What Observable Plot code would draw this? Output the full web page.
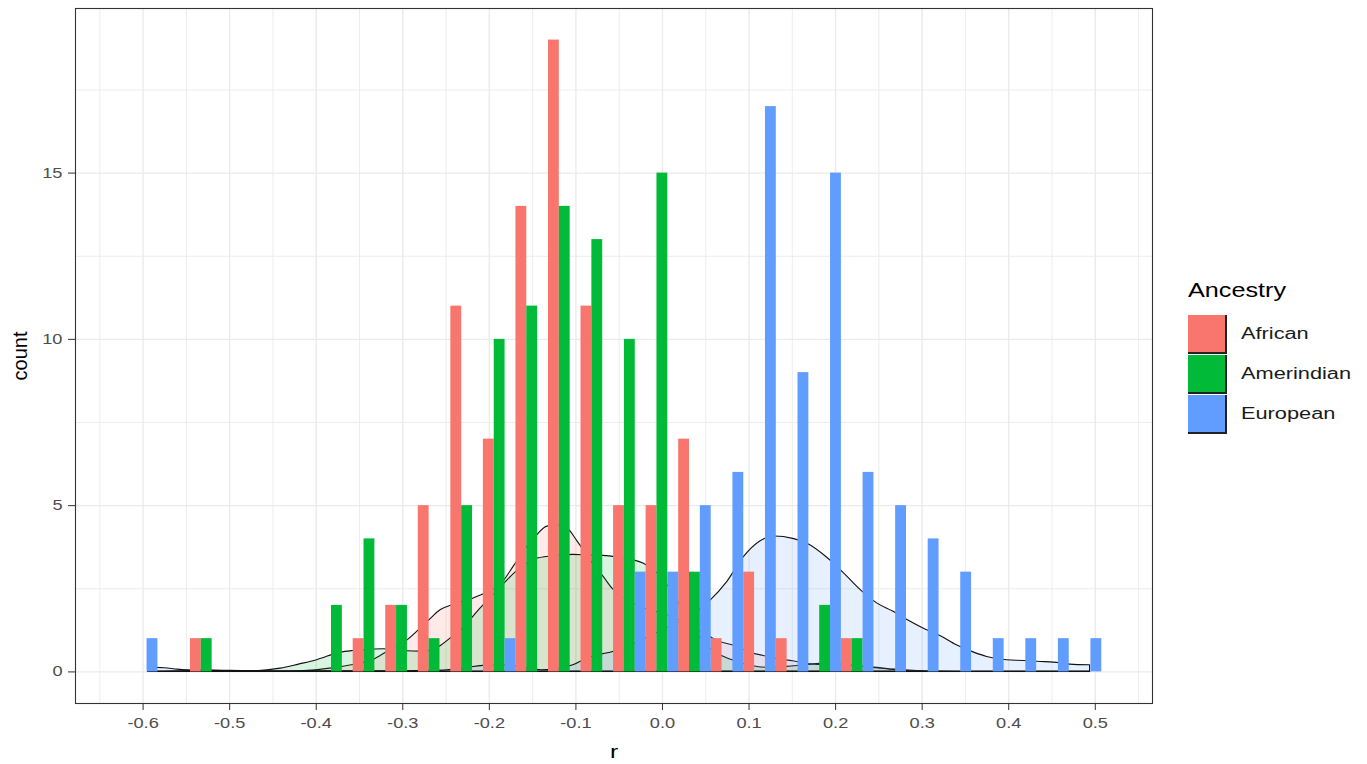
<!DOCTYPE html>
<html>
<head>
<meta charset="utf-8">
<script src="https://cdn.jsdelivr.net/npm/d3@7"></script>
<script src="https://cdn.jsdelivr.net/npm/@observablehq/plot@0.6"></script>
<style>
  html, body { margin: 0; padding: 0; background: #fff; }
  #wrap { position: relative; width: 1367px; height: 764px; font-family: "Liberation Sans", Arial, sans-serif; }
  #chart { position: absolute; left: 0; top: 0; }
  #legend { position: absolute; left: 1188px; top: 279px; }
  #legend .title { font-size: 20px; color: #000; margin-bottom: 12px; display: inline-block; transform: scaleX(1.26); transform-origin: left center; }
  #legend .row { display: flex; align-items: center; height: 40px; }
  #legend .key { width: 39px; height: 39px; box-sizing: border-box; border-right: 2px solid #222; border-bottom: 2px solid #222; }
  #legend .lab { font-size: 16px; color: #1a1a1a; margin-left: 14px; display: inline-block; transform: scaleX(1.36); transform-origin: left center; }
</style>
</head>
<body>
<div id="wrap"><div id="chart"></div><div id="legend"></div></div>
<script>
// ---- data ----
const groups = ["African", "Amerindian", "European"];
const colors = ["#F8766D", "#00BA38", "#619CFF"];
// histogram: 30 bins, dodged
const binStart = -0.6205;
const binWidth = 0.0376;
const countsAfrican    = [0,0,1,0,0,0,0,1,2,5,11,7,14,19,11,5,5,7,1,3,1,0,1,0,0,0,0,0,0,0];
const countsAmerindian = [0,0,1,0,0,0,2,4,2,1,5,10,11,14,13,10,15,3,0,0,0,2,1,0,0,0,0,0,0,0];
const countsEuropean   = [1,0,0,0,0,0,0,0,0,0,0,1,0,0,0,3,3,5,6,17,9,15,6,5,4,3,1,1,1,1];
// density curves [r, density]
const densAfrican = [[-0.594,0.00],[-0.57,0.01],[-0.545,0.03],[-0.53,0.04],[-0.515,0.03],[-0.49,0.01],[-0.46,0.00],[-0.43,0.01],[-0.41,0.03],[-0.384,0.10],[-0.357,0.21],[-0.334,0.36],[-0.318,0.60],[-0.297,0.90],[-0.271,1.51],[-0.256,1.86],[-0.241,2.02],[-0.218,2.21],[-0.205,2.35],[-0.184,2.71],[-0.172,3.16],[-0.158,3.70],[-0.144,4.13],[-0.133,4.37],[-0.12,4.40],[-0.110,4.32],[-0.098,3.92],[-0.083,3.35],[-0.068,2.86],[-0.058,2.51],[-0.04,2.15],[-0.02,1.90],[0.0,1.75],[0.02,1.55],[0.04,1.25],[0.055,1.05],[0.067,0.90],[0.081,0.80],[0.105,0.55],[0.117,0.48],[0.133,0.38],[0.151,0.32],[0.167,0.24],[0.19,0.20],[0.21,0.18],[0.23,0.16],[0.244,0.13],[0.267,0.07],[0.29,0.03],[0.32,0.01],[0.36,0.00],[0.494,0.00]];
const densAmerindian = [[-0.594,0.00],[-0.56,0.01],[-0.53,0.04],[-0.50,0.01],[-0.47,0.02],[-0.441,0.10],[-0.42,0.22],[-0.399,0.35],[-0.372,0.58],[-0.357,0.63],[-0.34,0.66],[-0.322,0.68],[-0.308,0.64],[-0.295,0.62],[-0.28,0.61],[-0.271,0.62],[-0.256,0.78],[-0.245,1.0],[-0.233,1.25],[-0.21,1.91],[-0.184,2.62],[-0.165,3.10],[-0.144,3.41],[-0.12,3.49],[-0.103,3.52],[-0.085,3.50],[-0.068,3.49],[-0.057,3.46],[-0.034,3.36],[-0.022,3.26],[-0.005,2.95],[0.01,2.45],[0.025,1.80],[0.04,1.15],[0.055,0.70],[0.067,0.50],[0.081,0.35],[0.105,0.17],[0.125,0.12],[0.144,0.15],[0.165,0.20],[0.19,0.25],[0.21,0.22],[0.23,0.16],[0.244,0.12],[0.267,0.06],[0.29,0.02],[0.32,0.00],[0.494,0.00]];
const densEuropean = [[-0.594,0.08],[-0.585,0.12],[-0.575,0.11],[-0.56,0.07],[-0.54,0.04],[-0.50,0.03],[-0.45,0.02],[-0.41,0.02],[-0.36,0.02],[-0.30,0.02],[-0.27,0.03],[-0.249,0.05],[-0.23,0.10],[-0.218,0.15],[-0.207,0.18],[-0.19,0.20],[-0.17,0.17],[-0.155,0.10],[-0.14,0.05],[-0.125,0.07],[-0.103,0.20],[-0.087,0.40],[-0.07,0.52],[-0.057,0.60],[-0.04,0.75],[-0.02,1.00],[0.0,1.25],[0.02,1.50],[0.04,1.80],[0.055,2.13],[0.075,2.71],[0.094,3.45],[0.113,3.92],[0.13,4.07],[0.151,4.00],[0.167,3.86],[0.19,3.44],[0.208,3.01],[0.229,2.46],[0.248,2.06],[0.267,1.81],[0.283,1.56],[0.302,1.30],[0.321,1.08],[0.340,0.80],[0.360,0.58],[0.375,0.45],[0.398,0.35],[0.417,0.33],[0.437,0.30],[0.452,0.28],[0.471,0.22],[0.494,0.20]];
// axes
const xTicks = [-0.6,-0.5,-0.4,-0.3,-0.2,-0.1,0.0,0.1,0.2,0.3,0.4,0.5];
const xMinor = [-0.65,-0.55,-0.45,-0.35,-0.25,-0.15,-0.05,0.05,0.15,0.25,0.35,0.45,0.55];
const yTicks = [0,5,10,15];
const yMinor = [2.5,7.5,12.5,17.5];

// ---- build tables ----
const countsByGroup = [countsAfrican, countsAmerindian, countsEuropean];
const bars = [];
countsByGroup.forEach((counts, k) => {
  counts.forEach((c, i) => {
    if (c > 0) {
      const left = binStart + i * binWidth;
      bars.push({group: groups[k], x1: left + k * binWidth / 3, x2: left + (k + 1) * binWidth / 3, count: c});
    }
  });
});
const densities = [];
[densAfrican, densAmerindian, densEuropean].forEach((d, k) => {
  d.forEach(([x, y]) => densities.push({group: groups[k], x, y}));
});

const chart = Plot.plot({
  width: 1160,
  height: 764,
  marginLeft: 75,
  marginRight: 8,
  marginTop: 8,
  marginBottom: 61,
  style: {fontFamily: "Liberation Sans, Arial, sans-serif", fontSize: "14px", background: "#fff"},
  x: {domain: [-0.6781, 0.5661]},
  y: {domain: [-0.95, 19.95]},
  color: {domain: groups, range: colors},
  marks: [
    Plot.ruleX(xMinor, {stroke: "#EBEBEB", strokeWidth: 0.9}),
    Plot.ruleY(yMinor, {stroke: "#EBEBEB", strokeWidth: 0.9}),
    Plot.ruleX(xTicks, {stroke: "#EBEBEB", strokeWidth: 1.4}),
    Plot.ruleY(yTicks, {stroke: "#EBEBEB", strokeWidth: 1.4}),
    Plot.areaY(densities, {x: "x", y1: 0, y2: "y", z: "group", fill: "group", fillOpacity: 0.15, stroke: "#111", strokeWidth: 1.1, curve: "monotone-x"}),
    Plot.rectY(bars, {x1: "x1", x2: "x2", y1: 0, y2: "count", fill: "group"}),
    Plot.frame({stroke: "#333", strokeWidth: 1.1}),
    Plot.axisX(xTicks, {tickFormat: d => d.toFixed(1), tickSize: 7, tickPadding: 8, stroke: "#333", fill: "#4D4D4D", fontSize: 14, label: null}),
    Plot.axisY(yTicks, {tickSize: 7, tickPadding: 6, stroke: "#333", fill: "#4D4D4D", fontSize: 14, label: null}),
    Plot.text(["r"], {frameAnchor: "bottom", dy: 54, fontSize: 19, fill: "#000"}),
    Plot.text(["count"], {frameAnchor: "left", textAnchor: "middle", dx: -55, rotate: -90, fontSize: 20, fill: "#000"})
  ]
});
document.getElementById("chart").appendChild(chart);
// widen glyphs horizontally, as in the reference
chart.querySelectorAll("text").forEach(t => {
  const rotated = (t.getAttribute("transform") || "").includes("rotate");
  const L = t.getComputedTextLength();
  if (!rotated && L > 0) {
    t.setAttribute("textLength", L * 1.3);
    t.setAttribute("lengthAdjust", "spacingAndGlyphs");
  }
});

// legend
const legend = document.getElementById("legend");
const t = document.createElement("div");
t.className = "title";
t.textContent = "Ancestry";
legend.appendChild(t);
groups.forEach((g, k) => {
  const row = document.createElement("div");
  row.className = "row";
  const key = document.createElement("div");
  key.className = "key";
  key.style.background = colors[k];
  const lab = document.createElement("div");
  lab.className = "lab";
  lab.textContent = g;
  row.appendChild(key);
  row.appendChild(lab);
  legend.appendChild(row);
});
</script>
</body>
</html>
